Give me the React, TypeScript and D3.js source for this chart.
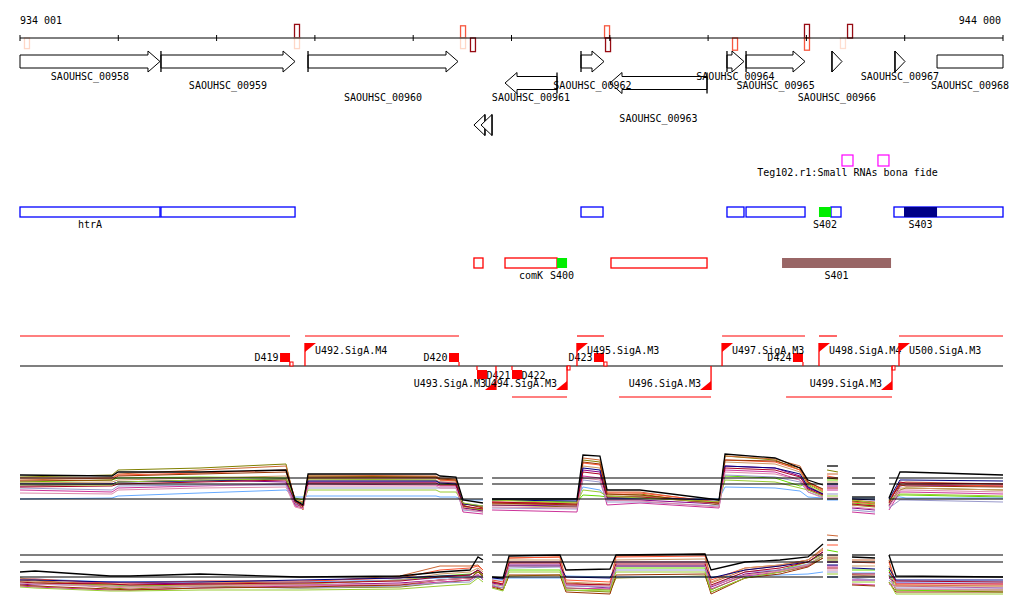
import React, { useEffect, useRef } from "react";
import * as d3 from "d3";

const WIDTH = 1024;
const HEIGHT = 611;
const FONT = "'DejaVu Sans Mono', monospace";

// genomic window
const viewStart = 934001;
const viewEnd = 944001;
const rulerLabels = ["934 001", "944 000"];

// marks on the ruler (strand +1 above, -1 below), level = signal strength 0..1
const markPos = [934072, 936819, 936819, 938508, 938508, 938609, 939973, 939983, 941275, 942007, 942007, 942373, 942445];
const markStrand = [-1, 1, -1, 1, -1, -1, 1, -1, -1, 1, -1, -1, 1];
const markLevel = [0.15, 0.9, 0.15, 0.55, 0.15, 0.9, 0.55, 0.9, 0.55, 0.9, 0.55, 0.12, 0.9];

// genes
const geneNames = ["SAOUHSC_00958", "SAOUHSC_00959", "SAOUHSC_00960", "SAOUHSC_00961", "SAOUHSC_00962", "SAOUHSC_00963", "SAOUHSC_00964", "SAOUHSC_00965", "SAOUHSC_00966", "SAOUHSC_00967", "SAOUHSC_00968", "", ""];
const geneStarts = [934001, 935435, 936931, 938935, 939708, 940003, 941193, 941387, 942261, 942902, 943330, 938619, 938691];
const geneEnds = [935425, 936799, 938457, 939464, 939942, 940990, 941366, 941987, 942363, 943004, 944600, 938731, 938803];
const geneStrands = [1, 1, 1, -1, 1, -1, 1, 1, 1, 1, 1, -1, -1];
const geneLanes = [0, 0, 0, 1, 0, 1, 0, 0, 0, 0, 0, 2, 2];
const geneLabelRows = [0, 1, 2, 2, 1, 3, 0, 1, 2, 0, 1, -1, -1];
const geneStartMark = [false, true, true, true, true, true, true, true, true, true, false, true, true];

// small RNA (Teg102)
const srnaStarts = [942363, 942729];
const srnaEnds = [942475, 942841];
const srnaLabel = "Teg102.r1:Small RNAs bona fide";

// annotation tracks
const blueStarts = [934001, 935435, 939708, 941193, 941387, 942251, 942892, 942129, 942994];
const blueEnds = [935425, 936799, 939932, 941366, 941987, 942353, 944001, 942251, 943330];
const blueKinds = ["box", "box", "box", "box", "box", "box", "box", "novel", "known"];
const blueLabels = ["htrA", "", "", "", "", "", "", "S402", "S403"];

const redStarts = [938619, 938935, 940013, 939464, 941753];
const redEnds = [938711, 939464, 940990, 939566, 942862];
const redKinds = ["box", "box", "box", "novel", "cluster"];
const redLabels = ["", "comK", "", "S400", "S401"];

// transcription units, promoters, terminators
const tuStarts = [934001, 936900, 939667, 941143, 942129, 942943, 939006, 940095, 941794];
const tuEnds = [936748, 938467, 939942, 941987, 942312, 944001, 939566, 941031, 942872];
const tuStrands = [1, 1, 1, 1, 1, 1, -1, -1, -1];

const promoterNames = ["U492.SigA.M4", "U493.SigA.M3", "U494.SigA.M3", "U495.SigA.M3", "U496.SigA.M3", "U497.SigA.M3", "U498.SigA.M4", "U499.SigA.M3", "U500.SigA.M3"];
const promoterPos = [936900, 938843, 939566, 939667, 941031, 941143, 942129, 942872, 942943];
const promoterStrands = [1, -1, -1, 1, -1, 1, 1, -1, 1];

const termNames = ["D419", "D420", "D421", "D422", "D423", "D424"];
const termPos = [936748, 938467, 938650, 939006, 939942, 941966];
const termStrands = [1, 1, -1, -1, 1, 1];

const tsPos = [936748, 939942, 939566, 942872];
const tsStrands = [1, 1, -1, -1];

// expression profiles (covered segments, probe positions, log signal)
const segments = [
  [934001, 938711],
  [938803, 942170],
  [942211, 942323],
  [942465, 942699],
  [942841, 944001],
];

const panel1Pos = [934001, 934937, 934998, 935832, 936707, 936799, 936880, 936931, 938233, 938274, 938436, 938508, 938711, 938803, 939667, 939728, 939901, 939973, 940308, 941112, 941173, 941682, 941936, 942017, 942170, 942211, 942322, 942465, 942699, 942841, 942953, 943014, 944001];
const panel1Refs = [5.2, 4.6, 3.1];
const panel1Series = [
  [5.5, 5.4, 5.8, 5.8, 6.0, 3.0, 2.5, 5.6, 5.6, 5.4, 5.3, 3.0, 2.7, 3.1, 3.1, 7.5, 7.4, 4.0, 4.0, 3.0, 7.6, 7.2, 6.2, 5.0, 4.5, 6.4, 6.4, 3.3, 3.3, 3.2, 5.8, 5.8, 5.5],
  [5.3, 5.5, 6.0, 6.2, 6.6, 2.7, 2.2, 5.4, 5.3, 5.0, 5.0, 2.5, 1.8, 2.5, 2.3, 7.0, 6.8, 3.5, 3.6, 2.5, 7.4, 7.0, 6.0, 4.5, 3.5, 6.0, 5.8, 2.5, 2.3, 2.5, 4.0, 4.2, 4.0],
  [5.0, 5.2, 5.6, 6.0, 6.4, 3.0, 2.0, 5.5, 5.4, 5.2, 5.1, 2.4, 2.0, 2.7, 2.6, 7.2, 7.0, 3.8, 3.8, 2.7, 7.4, 7.1, 6.4, 4.8, 4.0, 5.6, 5.6, 3.0, 2.8, 3.0, 4.7, 4.8, 4.6],
  [4.8, 5.0, 5.2, 5.3, 5.2, 3.2, 3.0, 5.1, 5.0, 4.6, 4.5, 2.2, 2.0, 3.0, 2.8, 3.5, 3.4, 3.3, 3.4, 2.8, 5.4, 5.2, 4.4, 4.6, 3.8, 5.0, 5.0, 2.7, 2.5, 2.8, 3.5, 3.5, 3.3],
  [4.4, 4.6, 4.8, 5.0, 4.8, 2.5, 2.5, 4.8, 4.8, 4.8, 4.7, 2.2, 1.9, 2.5, 2.4, 6.0, 5.8, 3.0, 3.0, 2.6, 6.4, 6.2, 5.4, 4.2, 3.6, 4.4, 4.4, 2.2, 2.0, 2.4, 4.4, 4.5, 4.4],
  [3.1, 3.2, 3.4, 3.7, 4.0, 3.3, 3.3, 3.4, 3.4, 3.3, 3.3, 3.0, 3.0, 3.1, 3.1, 4.3, 4.0, 3.1, 3.2, 3.1, 4.3, 4.2, 3.9, 3.3, 3.2, 3.0, 3.0, 3.2, 3.2, 3.3, 3.3, 3.2, 3.2],
  [4.0, 3.8, 4.2, 4.4, 4.6, 2.4, 2.2, 4.6, 4.5, 4.4, 4.4, 1.8, 1.6, 2.0, 1.8, 5.4, 5.2, 2.5, 2.7, 2.2, 6.0, 5.8, 5.0, 4.0, 3.4, 4.0, 4.0, 1.8, 1.6, 2.0, 3.8, 3.8, 3.6],
  [4.2, 4.0, 4.4, 4.5, 4.5, 2.7, 2.4, 4.2, 4.2, 4.2, 4.2, 2.0, 1.8, 2.2, 2.1, 5.0, 4.8, 2.8, 2.8, 2.4, 5.5, 5.3, 4.8, 3.8, 3.3, 3.6, 3.6, 2.0, 1.8, 2.2, 3.0, 3.0, 2.8],
  [5.2, 5.2, 5.5, 5.7, 6.0, 3.1, 2.8, 5.2, 5.2, 5.0, 4.9, 2.6, 2.3, 2.8, 2.7, 6.7, 6.5, 3.7, 3.7, 2.8, 7.0, 6.8, 6.0, 4.7, 3.9, 5.4, 5.2, 2.8, 2.6, 2.8, 4.6, 4.6, 4.4],
  [4.7, 4.8, 5.0, 5.2, 5.4, 2.8, 2.6, 5.0, 5.0, 4.8, 4.8, 2.3, 2.1, 2.6, 2.5, 6.4, 6.2, 3.4, 3.4, 2.6, 6.8, 6.6, 5.8, 4.4, 3.7, 4.8, 4.8, 2.5, 2.4, 2.6, 4.2, 4.2, 4.0],
  [4.9, 5.0, 5.4, 5.6, 5.8, 3.0, 2.3, 5.3, 5.3, 5.1, 5.0, 2.7, 2.2, 2.7, 2.5, 6.8, 6.6, 3.6, 3.5, 2.7, 7.0, 6.9, 6.2, 4.8, 4.1, 5.2, 5.1, 2.9, 2.7, 2.9, 4.5, 4.4, 4.3],
  [4.6, 4.6, 4.8, 4.9, 5.1, 2.9, 2.7, 4.9, 4.9, 4.7, 4.6, 2.6, 2.4, 3.0, 2.9, 6.2, 6.0, 3.2, 3.2, 3.0, 6.4, 6.2, 5.6, 4.3, 3.6, 4.6, 4.6, 3.1, 3.0, 3.1, 5.0, 5.0, 4.9],
  [4.3, 4.4, 4.6, 4.8, 5.0, 2.8, 2.4, 4.7, 4.7, 4.5, 4.5, 2.4, 2.1, 2.8, 2.6, 5.8, 5.6, 3.3, 3.3, 2.7, 6.2, 6.0, 5.3, 4.1, 3.5, 4.2, 4.2, 2.6, 2.4, 2.7, 4.8, 4.7, 4.6],
  [4.5, 4.5, 4.8, 5.0, 5.1, 3.1, 2.7, 4.0, 4.0, 3.8, 3.8, 2.7, 2.4, 3.0, 2.7, 4.0, 3.8, 3.4, 3.2, 2.8, 5.0, 4.8, 4.2, 4.0, 3.4, 3.4, 3.4, 3.0, 2.7, 3.0, 3.6, 3.6, 3.4],
  [3.7, 3.6, 4.0, 4.2, 4.3, 2.3, 2.1, 4.4, 4.4, 4.2, 4.2, 2.1, 1.8, 2.3, 2.2, 5.2, 5.0, 3.0, 2.9, 2.3, 5.8, 5.6, 5.0, 3.8, 3.2, 3.2, 3.2, 2.3, 2.1, 2.3, 4.0, 4.0, 3.8],
];

const panel2Pos = [934001, 934154, 934917, 935120, 935832, 936849, 937867, 938274, 938579, 938660, 938711, 938803, 938915, 938976, 939494, 939555, 940003, 940064, 940970, 941031, 941376, 941732, 942017, 942170, 942211, 942322, 942465, 942699, 942841, 942912, 944001];
const panel2Refs = [5.5, 4.8, 3.3];
const panel2Series = [
  [3.8, 3.9, 3.4, 3.4, 3.6, 3.3, 3.4, 3.8, 4.0, 5.3, 5.0, 3.3, 3.2, 5.4, 5.5, 4.0, 4.1, 5.5, 5.6, 4.0, 4.8, 5.0, 5.3, 6.6, 7.0, 7.0, 5.3, 5.2, 5.5, 3.4, 3.3],
  [3.2, 3.0, 2.2, 2.1, 2.4, 2.2, 2.3, 2.7, 3.0, 4.0, 3.2, 2.5, 2.0, 3.4, 3.5, 2.0, 1.8, 3.2, 3.4, 1.8, 3.2, 3.8, 4.4, 5.2, 5.0, 5.0, 3.5, 3.4, 3.5, 2.0, 2.0],
  [3.0, 2.9, 2.6, 2.5, 2.7, 2.8, 3.4, 4.4, 4.4, 4.5, 4.0, 2.8, 2.6, 5.2, 5.3, 2.7, 2.5, 5.4, 5.6, 2.7, 4.0, 4.4, 5.0, 6.2, 7.5, 7.4, 5.0, 5.0, 5.0, 2.5, 2.4],
  [2.8, 2.7, 2.5, 2.4, 2.5, 2.6, 3.0, 3.4, 3.6, 3.8, 3.5, 2.6, 2.4, 4.0, 4.0, 2.2, 2.0, 4.2, 4.2, 2.0, 3.5, 4.0, 4.8, 5.6, 6.0, 5.8, 4.0, 4.0, 4.0, 2.0, 1.8],
  [2.6, 2.5, 2.8, 2.7, 2.6, 2.5, 2.7, 3.0, 3.2, 3.5, 3.2, 2.7, 2.5, 4.5, 4.5, 2.5, 2.2, 4.4, 4.4, 2.3, 3.6, 4.0, 4.5, 5.4, 4.8, 4.8, 3.0, 3.0, 3.2, 2.7, 2.6],
  [3.1, 3.1, 2.8, 2.8, 2.9, 2.8, 3.0, 3.2, 3.3, 3.5, 3.3, 3.0, 3.0, 3.2, 3.2, 3.4, 3.3, 3.3, 3.3, 3.3, 3.4, 3.5, 3.6, 3.8, 3.3, 3.3, 3.7, 3.7, 3.6, 2.8, 2.8],
  [2.4, 2.3, 2.0, 2.0, 2.2, 2.4, 2.5, 2.8, 3.0, 3.5, 3.0, 2.4, 2.2, 4.8, 4.8, 2.2, 2.1, 4.8, 4.8, 2.1, 3.4, 3.8, 4.4, 5.4, 4.4, 4.4, 2.6, 2.5, 2.6, 2.4, 2.2],
  [2.7, 2.6, 2.4, 2.4, 2.3, 2.2, 2.4, 2.7, 2.8, 3.4, 3.1, 2.5, 2.2, 4.2, 4.3, 2.4, 2.3, 4.0, 4.0, 2.4, 3.8, 4.0, 4.6, 5.4, 3.8, 3.8, 3.2, 3.0, 3.0, 2.2, 2.2],
  [3.1, 3.1, 2.7, 2.7, 2.9, 2.9, 3.2, 4.0, 4.2, 4.4, 4.0, 3.0, 2.8, 5.2, 5.3, 3.0, 2.8, 5.3, 5.4, 3.0, 4.2, 4.5, 5.0, 6.0, 6.5, 6.5, 4.8, 4.7, 4.8, 2.6, 2.6],
  [2.9, 2.8, 2.4, 2.3, 2.5, 2.6, 3.0, 3.6, 3.8, 4.2, 3.8, 2.9, 2.6, 5.0, 5.0, 2.8, 2.6, 5.0, 5.1, 2.8, 4.2, 4.5, 5.0, 6.1, 5.4, 5.4, 4.4, 4.4, 4.4, 2.4, 2.4],
  [2.5, 2.4, 2.1, 2.0, 2.2, 2.3, 2.5, 3.0, 3.2, 3.8, 3.4, 2.3, 2.0, 3.5, 3.5, 1.8, 1.6, 3.5, 3.6, 1.6, 3.2, 3.6, 4.3, 5.2, 5.2, 5.2, 2.5, 2.4, 2.8, 1.8, 1.8],
  [3.0, 3.0, 2.8, 2.8, 2.8, 3.0, 3.2, 3.4, 3.5, 4.0, 3.6, 3.2, 3.1, 4.4, 4.4, 3.3, 3.2, 4.4, 4.4, 3.2, 4.0, 4.4, 4.8, 5.8, 4.5, 4.5, 4.2, 4.1, 4.2, 3.0, 3.0],
  [2.8, 2.7, 2.6, 2.5, 2.6, 2.7, 2.9, 3.3, 3.5, 4.0, 3.6, 2.8, 2.6, 4.7, 4.7, 2.6, 2.5, 4.6, 4.6, 2.5, 3.8, 4.2, 4.8, 5.8, 4.2, 4.2, 3.6, 3.6, 3.8, 2.9, 2.8],
  [2.3, 2.2, 1.9, 1.9, 2.0, 2.0, 2.1, 2.4, 2.6, 3.2, 2.8, 2.2, 1.9, 3.8, 3.8, 2.0, 1.9, 3.8, 3.8, 1.8, 3.2, 3.8, 4.5, 5.4, 3.6, 3.6, 2.8, 2.8, 2.8, 1.6, 1.6],
  [2.7, 2.6, 2.3, 2.2, 2.4, 2.5, 2.6, 3.0, 3.2, 3.6, 3.2, 2.6, 2.4, 4.4, 4.4, 2.5, 2.4, 4.4, 4.4, 2.4, 3.5, 3.9, 4.5, 5.6, 4.0, 4.0, 3.4, 3.4, 3.4, 2.1, 2.0],
];

const seriesColors = ["#000000", "#808000", "#cc6633", "#66dd00", "#880088", "#66aaff", "#cc3399", "#9999cc", "#ff5533", "#cc9966", "#993300", "#000080", "#aa0022", "#99cc33", "#dd88aa"];
const kindFill: Record<string, string> = { novel: "#00ee00", known: "#000088", cluster: "#996666" };

const App = () => {
  const ref: any = useRef(null);

  useEffect(() => {
    const svg = d3.select(ref.current);
    svg.selectAll("*").remove();

    const x = d3.scaleLinear().domain([viewStart, viewEnd]).range([20, 1003]);
    const xMax = x(viewEnd);

    const text = (sx: number, sy: number, t: string, anchor = "start") =>
      svg
        .append("text")
        .attr("x", sx)
        .attr("y", sy)
        .attr("text-anchor", anchor)
        .attr("font-family", FONT)
        .attr("font-size", 10)
        .attr("fill", "#000")
        .text(t);

    // ---- ruler
    const rulerY = 38;
    markPos.forEach((p, i) => {
      const h = 10 + 4 * markLevel[i];
      svg
        .append("rect")
        .attr("x", x(p) - 2.5)
        .attr("y", markStrand[i] > 0 ? rulerY - h : rulerY)
        .attr("width", 5)
        .attr("height", h)
        .attr("fill", "#fff")
        .attr("stroke", d3.interpolateReds(markLevel[i]))
        .attr("stroke-width", 1.3);
    });
    svg.append("line").attr("x1", 20).attr("x2", xMax).attr("y1", rulerY).attr("y2", rulerY).attr("stroke", "#000");
    d3.range(viewStart, viewEnd + 1, 1000).forEach((t) => {
      svg.append("line").attr("x1", x(t)).attr("x2", x(t)).attr("y1", rulerY - 3).attr("y2", rulerY + 3).attr("stroke", "#000");
    });
    text(20, 24, rulerLabels[0]);
    text(1001, 24, rulerLabels[1], "end");

    // ---- genes
    const laneY = [61.5, 83, 125];
    const labelRowY = [79.5, 88.5, 100.5, 121.5];
    const bh = 6.5;
    const hh = 10.5;
    const geneLabels: [number, number, string][] = [];
    geneNames.forEach((name, i) => {
      const x0 = x(Math.max(geneStarts[i], viewStart));
      const x1 = Math.min(x(geneEnds[i]), xMax);
      const yc = laneY[geneLanes[i]];
      const clipped = geneEnds[i] > viewEnd;
      const len = x1 - x0;
      const head = Math.min(12, len);
      let d = "";
      if (clipped) {
        d = `M${x0},${yc - bh}H${x1}V${yc + bh}H${x0}Z`;
      } else if (geneStrands[i] > 0) {
        const hx = x1 - head;
        d = len <= 12
          ? `M${x0},${yc - hh}L${x1},${yc}L${x0},${yc + hh}Z`
          : `M${x0},${yc - bh}H${hx}V${yc - hh}L${x1},${yc}L${hx},${yc + hh}V${yc + bh}H${x0}Z`;
      } else {
        const hx = x0 + head;
        d = len <= 12
          ? `M${x1},${yc - hh}L${x0},${yc}L${x1},${yc + hh}Z`
          : `M${x1},${yc - bh}H${hx}V${yc - hh}L${x0},${yc}L${hx},${yc + hh}V${yc + bh}H${x1}Z`;
      }
      svg.append("path").attr("d", d).attr("fill", "#fff").attr("stroke", "#000").attr("stroke-width", 1);
      if (geneStartMark[i]) {
        const bx = geneStrands[i] > 0 ? x0 : x1;
        svg.append("line").attr("x1", bx).attr("x2", bx).attr("y1", yc - hh).attr("y2", yc + hh).attr("stroke", "#000").attr("stroke-width", 1.3);
      }
      if (geneLabelRows[i] >= 0) geneLabels.push([(x0 + x1) / 2, labelRowY[geneLabelRows[i]], name]);
    });
    // labels on top of all gene glyphs
    geneLabels.forEach(([lx, ly, t]) => text(lx, ly, t, "middle"));

    // ---- small RNAs
    srnaStarts.forEach((s, i) => {
      svg.append("rect").attr("x", x(s)).attr("y", 155).attr("width", x(srnaEnds[i]) - x(s)).attr("height", 11)
        .attr("fill", "#fff").attr("stroke", "#ff00ff").attr("stroke-width", 1.2);
    });
    text((x(srnaStarts[0]) + x(srnaEnds[0])) / 2, 175.5, srnaLabel, "middle");

    // ---- annotation tracks
    const drawTrack = (starts: number[], ends: number[], kinds: string[], labels: string[], y0: number, stroke: string) => {
      starts.forEach((s, i) => {
        const a = x(s);
        const b = x(ends[i]);
        const filled = kinds[i] !== "box";
        svg.append("rect").attr("x", a).attr("y", y0).attr("width", b - a).attr("height", 10)
          .attr("fill", filled ? kindFill[kinds[i]] : "#fff")
          .attr("stroke", filled ? "none" : stroke)
          .attr("stroke-width", 1.3);
        if (labels[i]) text((a + b) / 2, y0 + 20.5, labels[i], "middle");
      });
    };
    drawTrack(blueStarts, blueEnds, blueKinds, blueLabels, 207, "#0000ff");
    drawTrack(redStarts, redEnds, redKinds, redLabels, 258, "#ff0000");

    // ---- transcription units / promoters / terminators
    const baseY = 366;
    const red = "#ff0000";
    tuStarts.forEach((s, i) => {
      const y = tuStrands[i] > 0 ? 336 : 397;
      svg.append("line").attr("x1", x(s)).attr("x2", x(tuEnds[i])).attr("y1", y).attr("y2", y).attr("stroke", red).attr("stroke-width", 1.2);
    });
    svg.append("line").attr("x1", 20).attr("x2", xMax).attr("y1", baseY).attr("y2", baseY).attr("stroke", "#000").attr("stroke-width", 1.2);

    termPos.forEach((p, i) => {
      const px = x(p);
      if (termStrands[i] > 0) {
        svg.append("rect").attr("x", px - 10).attr("y", 353).attr("width", 10).attr("height", 9).attr("fill", red);
        svg.append("line").attr("x1", px).attr("x2", px).attr("y1", 362).attr("y2", baseY).attr("stroke", red).attr("stroke-width", 1.2);
        text(px - 11.5, 360.5, termNames[i], "end");
      } else {
        svg.append("rect").attr("x", px).attr("y", 370).attr("width", 10).attr("height", 9).attr("fill", red);
        svg.append("line").attr("x1", px).attr("x2", px).attr("y1", baseY).attr("y2", 370).attr("stroke", red).attr("stroke-width", 1.2);
        text(px + 9.5, 378.5, termNames[i]);
      }
    });

    tsPos.forEach((p, i) => {
      svg.append("rect").attr("x", x(p)).attr("y", tsStrands[i] > 0 ? 362 : baseY).attr("width", 3).attr("height", 4)
        .attr("fill", "#fff").attr("stroke", red).attr("stroke-width", 1);
    });

    promoterPos.forEach((p, i) => {
      const px = x(p);
      if (promoterStrands[i] > 0) {
        svg.append("line").attr("x1", px).attr("x2", px).attr("y1", baseY).attr("y2", 343).attr("stroke", red).attr("stroke-width", 1.3);
        svg.append("path").attr("d", `M${px},343H${px + 11}L${px},352Z`).attr("fill", red);
        text(px + 10, 353.5, promoterNames[i]);
      } else {
        svg.append("line").attr("x1", px).attr("x2", px).attr("y1", baseY).attr("y2", 390).attr("stroke", red).attr("stroke-width", 1.3);
        svg.append("path").attr("d", `M${px},390H${px - 11}L${px},381Z`).attr("fill", red);
        text(px - 10, 386.5, promoterNames[i], "end");
      }
    });

    // ---- expression panels
    const drawPanel = (pos: number[], series: number[][], refs: number[], yTop: number, yBottom: number) => {
      const y = d3.scaleLinear().domain([0, 8]).range([yBottom, yTop]);
      const order = d3.range(1, series.length).concat([0]);
      segments.forEach(([s, e]) => {
        const idx = pos.map((p, i) => i).filter((i) => pos[i] >= s && pos[i] <= e);
        if (!idx.length) return;
        order.forEach((k) => {
          const line = d3
            .line<number>()
            .x((i) => x(pos[i]))
            .y((i) => y(series[k][i]));
          svg.append("path").attr("d", line(idx)).attr("fill", "none")
            .attr("stroke", seriesColors[k]).attr("stroke-width", k === 0 ? 1.3 : 1);
        });
        refs.forEach((r) => {
          svg.append("line").attr("x1", x(s)).attr("x2", x(e)).attr("y1", y(r)).attr("y2", y(r))
            .attr("stroke", "#000").attr("stroke-width", 1.2);
        });
      });
    };
    drawPanel(panel1Pos, panel1Series, panel1Refs, 450, 530);
    drawPanel(panel2Pos, panel2Series, panel2Refs, 530, 610);
  }, []);

  return (
    <div style={{ position: "absolute", left: 0, top: 0 }}>
      <svg ref={ref} width={WIDTH} height={HEIGHT} style={{ display: "block", background: "#fff" }} />
    </div>
  );
};

export default App;
